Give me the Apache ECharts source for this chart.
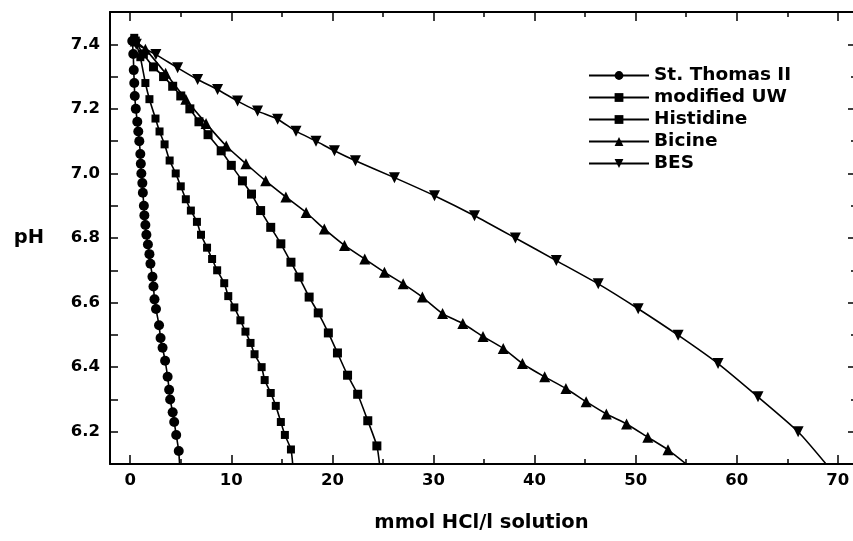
<!DOCTYPE html>
<html>
<head>
<meta charset="utf-8">
<script src="https://cdn.jsdelivr.net/npm/echarts@6/dist/echarts.min.js"></script>
<style>
html,body{margin:0;padding:0;background:#fff;}
#chart{width:853px;height:541px;}
</style>
</head>
<body>
<div id="chart"></div>
<script>
// ---- data (x = mmol HCl/l solution, y = pH) ----
const stThomas = [[0.2,7.41],[0.3,7.37],[0.35,7.32],[0.4,7.28],[0.45,7.24],[0.55,7.20],[0.7,7.16],[0.8,7.13],[0.9,7.10],[1.0,7.06],[1.05,7.03],[1.1,7.00],[1.2,6.97],[1.25,6.94],[1.35,6.90],[1.4,6.87],[1.5,6.84],[1.6,6.81],[1.75,6.78],[1.9,6.75],[2.0,6.72],[2.2,6.68],[2.3,6.65],[2.4,6.61],[2.55,6.58],[2.85,6.53],[3.0,6.49],[3.2,6.46],[3.45,6.42],[3.7,6.37],[3.85,6.33],[3.95,6.30],[4.2,6.26],[4.35,6.23],[4.55,6.19],[4.8,6.14]];
const stThomasTail = [4.9,6.09];

const modifiedUW = [[0.4,7.42],[1.0,7.36],[1.5,7.28],[1.9,7.23],[2.5,7.17],[2.9,7.13],[3.4,7.09],[3.9,7.04],[4.5,7.00],[5.0,6.96],[5.5,6.92],[6.0,6.885],[6.6,6.85],[7.0,6.81],[7.6,6.77],[8.1,6.735],[8.6,6.70],[9.3,6.66],[9.7,6.62],[10.3,6.585],[10.9,6.545],[11.4,6.51],[11.9,6.475],[12.3,6.44],[13.0,6.40],[13.3,6.36],[13.9,6.32],[14.4,6.28],[14.9,6.23],[15.3,6.19],[15.9,6.145]];
const modifiedUWTail = [16.1,6.09];

const histidine = [[0.5,7.41],[1.3,7.37],[2.3,7.33],[3.3,7.30],[4.2,7.27],[5.0,7.24],[5.9,7.20],[6.8,7.16],[7.7,7.12],[9.0,7.07],[10.0,7.025],[11.1,6.977],[12.0,6.936],[12.9,6.885],[13.9,6.833],[14.9,6.782],[15.9,6.725],[16.7,6.679],[17.7,6.617],[18.6,6.568],[19.6,6.506],[20.5,6.444],[21.5,6.375],[22.5,6.316],[23.5,6.234],[24.4,6.156]];
const histidineTail = [24.7,6.09];

const bicine = [[0.5,7.41],[1.5,7.385],[3.5,7.31],[5.5,7.23],[7.5,7.155],[9.5,7.085],[11.45,7.03],[13.4,6.977],[15.4,6.927],[17.4,6.879],[19.2,6.828],[21.2,6.777],[23.2,6.735],[25.15,6.694],[27.0,6.658],[28.9,6.617],[30.9,6.566],[32.9,6.535],[34.9,6.495],[36.9,6.458],[38.8,6.411],[41.0,6.37],[43.1,6.334],[45.1,6.293],[47.1,6.255],[49.1,6.224],[51.2,6.183],[53.2,6.144]];
const bicineTail = [55.4,6.09];

const bes = [[0.6,7.40],[2.54,7.368],[4.69,7.327],[6.67,7.291],[8.64,7.26],[10.62,7.224],[12.6,7.193],[14.58,7.168],[16.4,7.131],[18.38,7.10],[20.2,7.07],[22.28,7.039],[26.14,6.987],[30.1,6.931],[34.06,6.869],[38.1,6.80],[42.15,6.73],[46.3,6.658],[50.25,6.581],[54.2,6.499],[58.15,6.411],[62.1,6.308],[66.07,6.20]];
const besTail = [69.1,6.09];

const seriesNames = ['St. Thomas II','modified UW','Histidine','Bicine','BES'];
const xMajor = [0,10,20,30,40,50,60,70];
const xMinor = [5,15,25,35,45,55,65];
const yMajor = [6.2,6.4,6.6,6.8,7.0,7.2,7.4];
const yMinor = [6.3,6.5,6.7,6.9,7.1,7.3];
const yAll = [6.2,6.3,6.4,6.5,6.6,6.7,6.8,6.9,7.0,7.1,7.2,7.3,7.4];

// ---- chart ----
const FONT = 'DejaVu Sans';
const black = '#000';
function withTail(pts, tail){
  return pts.map(p => p).concat([{value: tail, symbol: 'none'}]);
}
function mkSeries(name, pts, tail, symbol, size, rotate){
  return {
    name: name, type: 'line', data: withTail(pts, tail),
    symbol: symbol, symbolSize: size, symbolRotate: rotate || 0,
    smooth: 0.2, clip: true,
    lineStyle: {color: black, width: 1.6},
    itemStyle: {color: black},
    emphasis: {disabled: true},
    animation: false
  };
}
const xBase = {type:'value', min:-2, max:71.5, splitLine:{show:false}};
const yBase = {type:'value', min:6.1, max:7.5, splitLine:{show:false}};
const tickStyle = {color: black, width: 1.5};

const option = {
  backgroundColor: '#fff',
  animation: false,
  grid: {left: 110, right: 0, top: 12, bottom: 77},
  legend: {
    data: seriesNames, orient: 'vertical', left: 583, top: 61,
    itemWidth: 60, itemHeight: 11, itemGap: 3,
    textStyle: {fontFamily: FONT, fontSize: 18.5, fontWeight: 'bold', color: black}
  },
  xAxis: [
    Object.assign({}, xBase, {
      position: 'bottom',
      name: 'mmol HCl/l solution', nameLocation: 'middle', nameGap: 49,
      nameTextStyle: {fontFamily: FONT, fontSize: 19.5, fontWeight: 'bold', color: black},
      axisLine: {show: true, onZero: false, lineStyle: {color: black, width: 2}},
      axisTick: {show: true, inside: true, length: 9, customValues: xMajor, lineStyle: tickStyle},
      axisLabel: {customValues: xMajor, margin: 8, fontFamily: FONT, fontSize: 16.5, fontWeight: 'bold', color: black}
    }),
    Object.assign({}, xBase, {
      position: 'bottom',
      axisLine: {show: false, onZero: false},
      axisTick: {show: true, inside: true, length: 5, customValues: xMinor, lineStyle: tickStyle},
      axisLabel: {show: false}
    }),
    Object.assign({}, xBase, {
      position: 'top',
      axisLine: {show: true, onZero: false, lineStyle: {color: black, width: 2}},
      axisTick: {show: true, inside: true, length: 9, customValues: xMajor, lineStyle: tickStyle},
      axisLabel: {show: false}
    }),
    Object.assign({}, xBase, {
      position: 'top',
      axisLine: {show: false, onZero: false},
      axisTick: {show: true, inside: true, length: 5, customValues: xMinor, lineStyle: tickStyle},
      axisLabel: {show: false}
    })
  ],
  yAxis: [
    Object.assign({}, yBase, {
      position: 'left',
      name: 'pH', nameLocation: 'middle', nameGap: 66, nameRotate: 0,
      nameTextStyle: {fontFamily: FONT, fontSize: 19.5, fontWeight: 'bold', color: black},
      axisLine: {show: true, onZero: false, lineStyle: {color: black, width: 2}},
      axisTick: {show: true, inside: true, length: 8, customValues: yAll, lineStyle: tickStyle},
      axisLabel: {customValues: yMajor, margin: 10, fontFamily: FONT, fontSize: 16.5, fontWeight: 'bold', color: black,
                  formatter: v => v.toFixed(1)}
    }),
    Object.assign({}, yBase, {
      position: 'right',
      axisLine: {show: false, onZero: false},
      axisTick: {show: true, inside: true, length: 5, customValues: yMajor, lineStyle: tickStyle},
      axisLabel: {show: false}
    }),
    Object.assign({}, yBase, {
      position: 'right',
      axisLine: {show: false, onZero: false},
      axisTick: {show: true, inside: true, length: 2, customValues: yMinor, lineStyle: tickStyle},
      axisLabel: {show: false}
    })
  ],
  series: [
    mkSeries(seriesNames[0], stThomas, stThomasTail, 'circle', 10),
    mkSeries(seriesNames[1], modifiedUW, modifiedUWTail, 'rect', 8),
    mkSeries(seriesNames[2], histidine, histidineTail, 'rect', 9),
    mkSeries(seriesNames[3], bicine, bicineTail, 'triangle', 11),
    mkSeries(seriesNames[4], bes, besTail, 'triangle', 11, 180)
  ]
};
const chart = echarts.init(document.getElementById('chart'), null, {renderer: 'canvas'});
chart.setOption(option);
</script>
</body>
</html>
